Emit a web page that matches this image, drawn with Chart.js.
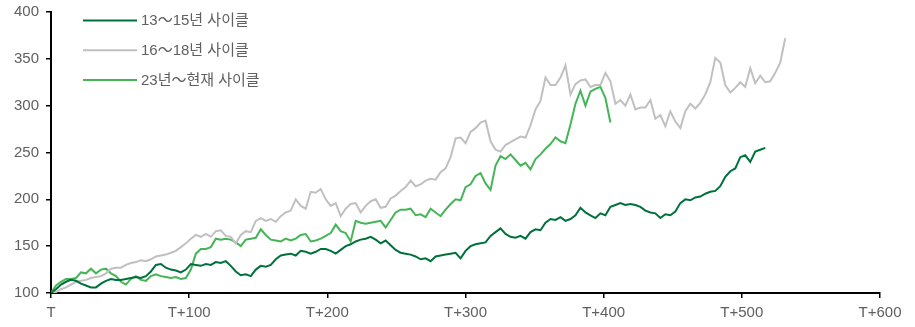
<!DOCTYPE html>
<html>
<head>
<meta charset="utf-8">
<script src="https://cdn.jsdelivr.net/npm/chart.js@4"></script>
<style>
  html, body { margin: 0; padding: 0; background: #fff; }
  #wrap { width: 915px; height: 327px; }
</style>
</head>
<body>
<div id="wrap"><canvas id="myChart" width="915" height="327"></canvas></div>
<script>
// days per sample (every ~5px)
var STEP = 3.615;

var seriesNames = ["13～15년 사이클", "16～18년 사이클", "23년～현재 사이클"];
var xTicks = ["T", "T+100", "T+200", "T+300", "T+400", "T+500", "T+600"];
var yTicks = [100, 150, 200, 250, 300, 350, 400];

var cycle1315 = [100,104,109,112,114,113,110,108,106,106,
    110,113,115,114,114,115,116,117,116,118,
    123,130,131,127,125,124,122,125,131,130,
    129,131,130,133,132,134,129,123,119,120,
    118,125,129,128,130,136,140,141,142,140,
    145,144,142,144,147,147,145,142,146,150,
    152,155,157,158,160,157,153,156,151,146,
    143,142,141,139,136,137,134,139,140,141,
    142,143,137,145,150,152,153,154,161,165,
    169,163,160,159,161,158,165,168,167,175,
    179,178,181,177,179,183,191,186,183,180,
    185,183,192,194,196,194,195,194,192,188,
    186,185,180,184,183,187,196,200,199,202,
    203,206,208,209,214,224,230,233,245,247,
    240,251,253,255];

var cycle1618 = [100,101,104,106,109,112,113,114,116,117,
    118,121,126,127,127,130,132,133,135,134,
    136,139,140,141,143,145,149,153,158,162,
    160,163,160,166,167,161,160,153,162,166,
    165,177,180,177,179,176,182,186,188,200,
    193,190,208,207,211,200,193,196,182,190,
    195,196,186,193,198,200,191,192,201,204,
    209,213,220,214,216,220,222,221,229,233,
    245,265,266,260,272,276,282,284,262,253,
    251,258,261,264,267,266,279,296,305,330,
    322,322,330,343,312,323,327,328,320,322,
    322,335,326,302,306,300,312,296,298,298,
    306,286,290,278,294,283,276,294,302,297,
    303,312,325,351,346,322,314,319,325,320,
    340,324,332,325,326,335,346,372];

var cycle23 = [100,108,112,115,115,116,122,121,126,121,
    125,126,121,118,112,109,115,118,114,113,
    118,120,118,117,116,117,115,116,125,142,
    147,147,149,158,157,158,157,154,150,157,
    158,159,168,162,157,156,155,158,156,158,
    162,163,155,156,158,161,164,173,166,164,
    155,177,175,174,175,176,177,170,178,186,
    189,189,190,183,184,181,190,186,182,189,
    195,200,199,213,216,225,228,217,210,236,
    246,243,248,242,236,239,232,243,248,254,
    259,266,262,260,280,302,316,300,315,318,
    320,308,282];

var colors = ["#00703c", "#c0c0c0", "#45b558"];
var FONT = "Arial, 'Liberation Sans', 'Noto Sans CJK KR', sans-serif";

function toPoints(values) {
    var pts = [];
    values.forEach(function (v, i) {
        pts.push({ x: i * STEP, y: v });
    });
    return pts;
}

var lineLegend = {
    id: "lineLegend",
    afterDraw: function (chart) {
        var c = chart.ctx;
        c.save();
        c.font = "15px " + FONT;
        c.textBaseline = "middle";
        c.fillStyle = "#606060";
        for (var i = 0; i < seriesNames.length; i++) {
            var y = 20.5 + i * 29.7;
            c.strokeStyle = colors[i];
            c.lineWidth = 2;
            c.beginPath();
            c.moveTo(83, y);
            c.lineTo(137, y);
            c.stroke();
            c.fillText(seriesNames[i], 141, y + 0.5);
        }
        c.restore();
    }
};

var ctx = document.getElementById("myChart");
var myChart = new Chart(ctx, {
    type: "line",
    data: {
        datasets: [{
                label: seriesNames[0],
                data: toPoints(cycle1315),
                borderColor: colors[0],
                backgroundColor: colors[0]
            },
            {
                label: seriesNames[1],
                data: toPoints(cycle1618),
                borderColor: colors[1],
                backgroundColor: colors[1]
            },
            {
                label: seriesNames[2],
                data: toPoints(cycle23),
                borderColor: colors[2],
                backgroundColor: colors[2]
            }
        ]
    },
    options: {
        responsive: false,
        animation: false,
        layout: { padding: { top: 12, right: 35, left: 0, bottom: 0 } },
        elements: {
            point: { radius: 0 },
            line: { borderWidth: 2, tension: 0 }
        },
        plugins: {
            legend: { display: false },
            tooltip: { enabled: false }
        },
        scales: {
            x: {
                type: "linear",
                min: 0,
                max: 600,
                afterFit: function (scale) { scale.height = 34; },
                afterBuildTicks: function (scale) {
                    scale.ticks = xTicks.map(function (t, i) { return { value: i * 100 }; });
                },
                ticks: {
                    color: "#606060",
                    font: { size: 15, family: FONT },
                    padding: 6,
                    maxRotation: 0,
                    callback: function (v) { return xTicks[v / 100]; }
                },
                grid: { drawOnChartArea: false, drawTicks: true, tickLength: 5, color: "#000", lineWidth: 1.5 },
                border: { display: true, color: "#000", width: 2 }
            },
            y: {
                min: 100,
                max: 400,
                afterFit: function (scale) {
                    scale.width = 51;
                    scale.paddingTop = 0;
                    scale.paddingBottom = 0;
                },
                afterBuildTicks: function (scale) {
                    scale.ticks = yTicks.map(function (v) { return { value: v }; });
                },
                ticks: {
                    color: "#606060",
                    font: { size: 15, family: FONT },
                    padding: 7
                },
                grid: { drawOnChartArea: false, drawTicks: true, tickLength: 5, color: "#000", lineWidth: 1.5 },
                border: { display: true, color: "#000", width: 2 }
            }
        }
    },
    plugins: [lineLegend]
});
</script>
</body>
</html>
